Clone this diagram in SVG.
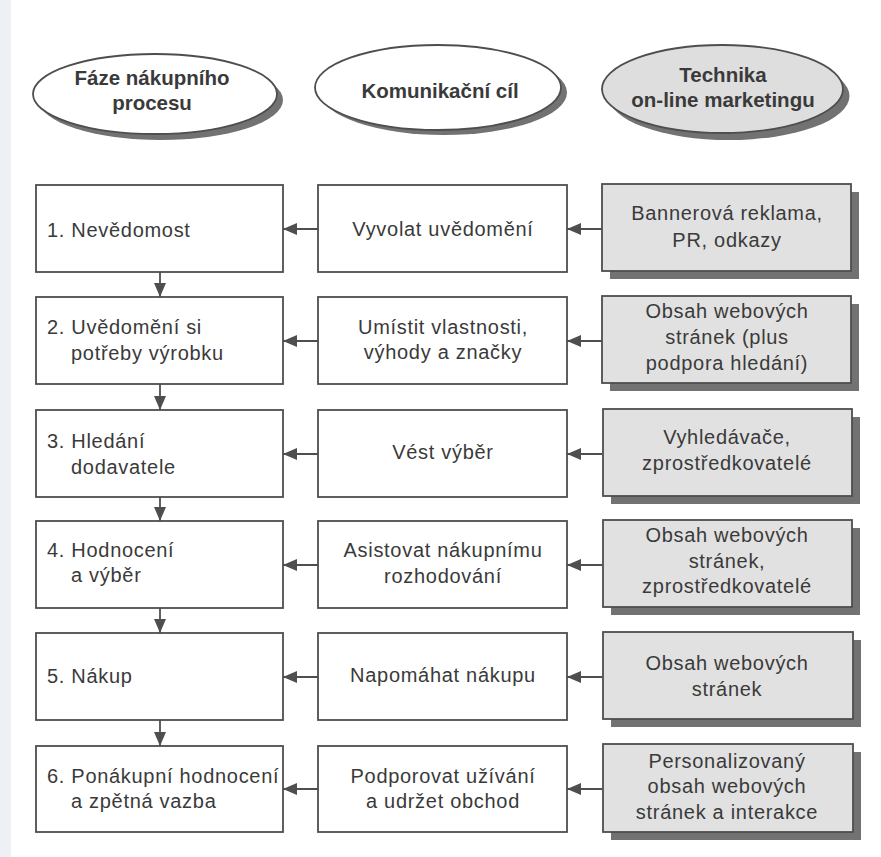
<svg xmlns="http://www.w3.org/2000/svg" width="881" height="857" viewBox="0 0 881 857">
<defs>
<style>
.bg{fill:#ffffff}
.strip{fill:#edf1f5}
.box{fill:#ffffff;stroke:#4e4e4e;stroke-width:1.8}
.gbox{fill:#e1e1e1;stroke:#4e4e4e;stroke-width:1.8}
.shadow{fill:#727272}
.ell{fill:#ffffff;stroke:#4e4e4e;stroke-width:1.8}
.gell{fill:#dedede;stroke:#4e4e4e;stroke-width:1.8}
.t{font-family:"Liberation Sans",Arial,sans-serif;font-size:20px;letter-spacing:0.7px;fill:#3a3a3a}
.c{text-anchor:middle}
.h{font-family:"Liberation Sans",Arial,sans-serif;font-size:20.5px;font-weight:bold;fill:#3a3a3a;text-anchor:middle}
.conn line{stroke:#4e4e4e;stroke-width:1.8}
</style>
<marker id="ah" viewBox="0 0 14 12" refX="14" refY="6" markerWidth="14" markerHeight="12" markerUnits="userSpaceOnUse" orient="auto">
<path d="M0,0 L14,6 L0,12 Z" fill="#4e4e4e"/>
</marker>
</defs>
<rect class="bg" x="0" y="0" width="881" height="857"/>
<rect class="strip" x="0" y="0" width="11" height="857"/>

<g id="head-faze">
<ellipse class="shadow" cx="161" cy="100" rx="122" ry="40"/>
<ellipse class="ell" cx="155" cy="94" rx="122" ry="40"/>
<text class="h" x="152" y="85">Fáze nákupního</text>
<text class="h" x="152" y="110">procesu</text>
</g>
<g id="head-cil">
<ellipse class="shadow" cx="444" cy="92.5" rx="123" ry="42.5"/>
<ellipse class="ell" cx="438" cy="87.5" rx="123" ry="42.5"/>
<text class="h" x="440" y="98">Komunikační cíl</text>
</g>
<g id="head-tech">
<ellipse class="shadow" cx="729" cy="96" rx="120.5" ry="44"/>
<ellipse class="gell" cx="722.5" cy="89" rx="120.5" ry="44"/>
<text class="h" x="723" y="82">Technika</text>
<text class="h" x="723" y="107">on-line marketingu</text>
</g>

<g class="conn" id="connectors">
<line x1="160" y1="272" x2="160" y2="297" marker-end="url(#ah)"/>
<line x1="160" y1="384" x2="160" y2="410" marker-end="url(#ah)"/>
<line x1="160" y1="497" x2="160" y2="521" marker-end="url(#ah)"/>
<line x1="160" y1="608" x2="160" y2="633" marker-end="url(#ah)"/>
<line x1="160" y1="720" x2="160" y2="746" marker-end="url(#ah)"/>
<line x1="318" y1="229" x2="283" y2="229" marker-end="url(#ah)"/>
<line x1="318" y1="341" x2="283" y2="341" marker-end="url(#ah)"/>
<line x1="318" y1="454" x2="283" y2="454" marker-end="url(#ah)"/>
<line x1="318" y1="565" x2="283" y2="565" marker-end="url(#ah)"/>
<line x1="318" y1="677" x2="283" y2="677" marker-end="url(#ah)"/>
<line x1="318" y1="789" x2="283" y2="789" marker-end="url(#ah)"/>
<line x1="602" y1="229" x2="567" y2="229" marker-end="url(#ah)"/>
<line x1="602" y1="341" x2="567" y2="341" marker-end="url(#ah)"/>
<line x1="602" y1="454" x2="567" y2="454" marker-end="url(#ah)"/>
<line x1="602" y1="565" x2="567" y2="565" marker-end="url(#ah)"/>
<line x1="602" y1="677" x2="567" y2="677" marker-end="url(#ah)"/>
<line x1="602" y1="789" x2="567" y2="789" marker-end="url(#ah)"/>
</g>

<g id="faze1"><rect class="box" x="36" y="185" width="247" height="87"/><text class="t" x="47" y="237">1. Nevědomost</text></g>
<g id="faze2"><rect class="box" x="36" y="297" width="247" height="87"/><text class="t" x="47" y="334">2. Uvědomění si</text><text class="t" x="71" y="360">potřeby výrobku</text></g>
<g id="faze3"><rect class="box" x="36" y="410" width="247" height="87"/><text class="t" x="47" y="448">3. Hledání</text><text class="t" x="71" y="474">dodavatele</text></g>
<g id="faze4"><rect class="box" x="36" y="521" width="247" height="87"/><text class="t" x="47" y="557">4. Hodnocení</text><text class="t" x="71" y="582">a výběr</text></g>
<g id="faze5"><rect class="box" x="36" y="633" width="247" height="87"/><text class="t" x="47" y="683">5. Nákup</text></g>
<g id="faze6"><rect class="box" x="36" y="746" width="247" height="86"/><text class="t" x="47" y="783">6. Ponákupní hodnocení</text><text class="t" x="71" y="808">a zpětná vazba</text></g>

<g id="cil1"><rect class="box" x="318" y="185" width="249" height="87"/><text class="t c" x="443" y="236">Vyvolat uvědomění</text></g>
<g id="cil2"><rect class="box" x="318" y="297" width="249" height="87"/><text class="t c" x="443" y="334">Umístit vlastnosti,</text><text class="t c" x="443" y="359">výhody a značky</text></g>
<g id="cil3"><rect class="box" x="318" y="410" width="249" height="87"/><text class="t c" x="443" y="459">Vést výběr</text></g>
<g id="cil4"><rect class="box" x="318" y="521" width="249" height="87"/><text class="t c" x="443" y="557">Asistovat nákupnímu</text><text class="t c" x="443" y="583">rozhodování</text></g>
<g id="cil5"><rect class="box" x="318" y="633" width="249" height="87"/><text class="t c" x="443" y="682">Napomáhat nákupu</text></g>
<g id="cil6"><rect class="box" x="318" y="746" width="249" height="86"/><text class="t c" x="443" y="783">Podporovat užívání</text><text class="t c" x="443" y="808">a udržet obchod</text></g>

<g id="tech1"><rect class="shadow" x="610" y="192" width="249" height="87"/><rect class="gbox" x="602" y="184" width="249" height="87"/><text class="t c" x="727" y="220">Bannerová reklama,</text><text class="t c" x="727" y="247">PR, odkazy</text></g>
<g id="tech2"><rect class="shadow" x="610" y="304" width="249" height="87"/><rect class="gbox" x="602" y="296" width="249" height="87"/><text class="t c" x="727" y="318">Obsah webových</text><text class="t c" x="727" y="344">stránek (plus</text><text class="t c" x="727" y="370">podpora hledání)</text></g>
<g id="tech3"><rect class="shadow" x="611" y="417" width="249" height="87"/><rect class="gbox" x="603" y="409" width="249" height="87"/><text class="t c" x="727" y="444">Vyhledávače,</text><text class="t c" x="727" y="470">zprostředkovatelé</text></g>
<g id="tech4"><rect class="shadow" x="611" y="528" width="249" height="87"/><rect class="gbox" x="603" y="520" width="249" height="87"/><text class="t c" x="727" y="542">Obsah webových</text><text class="t c" x="727" y="568">stránek,</text><text class="t c" x="727" y="593">zprostředkovatelé</text></g>
<g id="tech5"><rect class="shadow" x="611" y="640" width="250" height="87"/><rect class="gbox" x="603" y="632" width="250" height="87"/><text class="t c" x="727" y="670">Obsah webových</text><text class="t c" x="727" y="696">stránek</text></g>
<g id="tech6"><rect class="shadow" x="611" y="752" width="250" height="88"/><rect class="gbox" x="603" y="744" width="250" height="88"/><text class="t c" x="727" y="768">Personalizovaný</text><text class="t c" x="727" y="793">obsah webových</text><text class="t c" x="727" y="819">stránek a interakce</text></g>
</svg>
